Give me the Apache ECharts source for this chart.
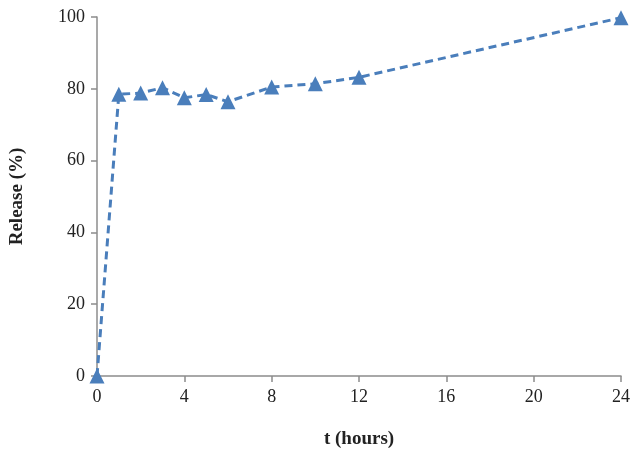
<!DOCTYPE html>
<html>
  <head>
    <meta charset="utf-8" />
    <script src="https://cdn.jsdelivr.net/npm/echarts@6/dist/echarts.min.js"></script>
  </head>
  <body>
    <style>
      #main, html, body { width: 100%; height: 100%; margin: 0; overflow: hidden; background: #fff; }
    </style>
    <div id="main"></div>
    <script type="text/javascript">
      // release data
      var hours = [0, 1, 2, 3, 4, 5, 6, 8, 10, 12, 24];
      var release = [0, 78.5, 78.8, 80.3, 77.5, 78.4, 76.4, 80.5, 81.4, 83.2, 99.8];
      var xTicks = [0, 4, 8, 12, 16, 20, 24];
      var yTicks = [0, 20, 40, 60, 80, 100];

      var myChart = echarts.init(document.getElementById('main'));
      var font = 'Liberation Serif';
      var points = hours.map(function (h, i) { return [h, release[i]]; });

      var option = {
        animation: false,
        grid: { left: 94, right: 21, top: 17, bottom: 82 },
        xAxis: {
          type: 'value',
          min: xTicks[0], max: xTicks[xTicks.length - 1], interval: 4,
          name: 't (hours)', nameLocation: 'middle', nameGap: 54,
          nameTextStyle: { fontFamily: font, fontWeight: 'bold', fontSize: 19, color: '#222' },
          axisLine: { lineStyle: { color: '#8c8c8c', width: 1.5 } },
          axisTick: { show: true, length: 6, lineStyle: { color: '#8c8c8c', width: 1.5 } },
          axisLabel: { fontFamily: font, fontSize: 18, color: '#222', margin: 12 },
          splitLine: { show: false }
        },
        yAxis: {
          type: 'value',
          min: yTicks[0], max: yTicks[yTicks.length - 1], interval: 20,
          name: 'Release (%)', nameLocation: 'middle', nameGap: 70,
          nameTextStyle: { fontFamily: font, fontWeight: 'bold', fontSize: 19, color: '#222' },
          axisLine: { show: true, lineStyle: { color: '#8c8c8c', width: 1.5 } },
          axisTick: { show: true, length: 6, lineStyle: { color: '#8c8c8c', width: 1.5 } },
          axisLabel: { fontFamily: font, fontSize: 18, color: '#222', margin: 12 },
          splitLine: { show: false }
        },
        series: [{
          type: 'line',
          data: points,
          symbol: 'triangle',
          symbolSize: 15,
          lineStyle: { color: '#4a7ebb', width: 3, type: [8, 5] },
          itemStyle: { color: '#4a7ebb' }
        }]
      };

      myChart.setOption(option);
    </script>
  </body>
</html>
